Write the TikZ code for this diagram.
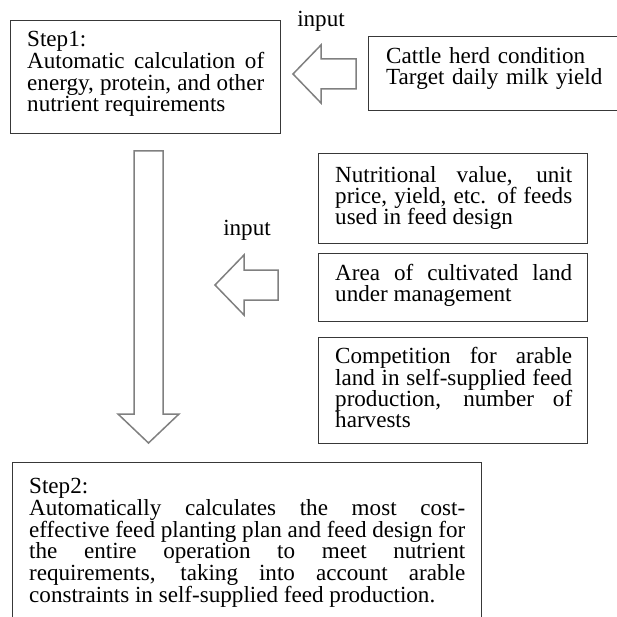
\documentclass[tikz,border=0pt]{standalone}
\usepackage{fontspec}
\setmainfont{Liberation Serif}
\tikzset{
  frame/.style={draw=black!78, line width=1.1pt, inner sep=0pt, anchor=north west},
  txt/.style={inner sep=0pt, anchor=north west, align=justify,
    font=\fontsize{23.1}{21.3}\selectfont},
  widetxt/.style={txt, font=\fontsize{23.1}{21.8}\selectfont},
  lbl/.style={inner sep=0pt, font=\fontsize{23.1}{21.3}\selectfont},
  blockarrow/.style={draw=black!50, line width=1.5pt, fill=white, line join=miter}
}
\begin{document}
\begin{tikzpicture}[x=1pt,y=-1pt]
\clip (0,0) rectangle (617,617);
\fill[white] (0,0) rectangle (617,617);
% frames
\node[frame, minimum width=270pt, minimum height=113pt] (s1) at (10,20) {};
\node[frame, minimum width=262pt, minimum height=74pt] (cat) at (368,36) {};
\node[frame, minimum width=269pt, minimum height=90pt] (b1) at (318,153) {};
\node[frame, minimum width=269pt, minimum height=68pt] (b2) at (318,253) {};
\node[frame, minimum width=269pt, minimum height=106pt] (b3) at (318,337) {};
\node[frame, minimum width=469pt, minimum height=175pt] (s2) at (12,462) {};
% texts
\node[widetxt, text width=237pt] (t1) at (27,31) {\hyphenpenalty=10000\exhyphenpenalty=10000 Step1:\\Automatic calculation of\linebreak energy, protein, and other\linebreak nutrient requirements};
\node[txt, text width=230pt, align=left] (tc) at (386,47) {Cattle herd condition\\Target daily milk yield};
\node[txt, text width=237pt] (t2) at (335,166) {\hyphenpenalty=10000\exhyphenpenalty=10000 Nutritional value, unit\linebreak price, yield, etc. of feeds\linebreak used in feed design};
\node[txt, text width=237pt] (t3) at (335,264) {\hyphenpenalty=10000\exhyphenpenalty=10000 Area of cultivated land\linebreak under management};
\node[txt, text width=237pt] (t4) at (335,347.5) {\hyphenpenalty=10000\exhyphenpenalty=10000 Competition for arable\linebreak land in self-supplied feed\linebreak production, number of\linebreak harvests};
\node[widetxt, text width=436pt] (t5) at (29,478) {\hyphenpenalty=10000\exhyphenpenalty=10000 Step2:\\Automatically calculates the most cost-\linebreak effective feed planting plan and feed design for\linebreak the entire operation to meet nutrient\linebreak requirements, taking into account arable\linebreak constraints in self-supplied feed production.};
% labels
\node[lbl] (in1) at (321,21) {input};
\node[lbl] (in2) at (247,230) {input};
% block arrows
\draw[blockarrow] (293,74) -- (321,45) -- (321,59) -- (356,59) -- (356,89) -- (321,89) -- (321,103) -- cycle;
\draw[blockarrow] (215,285) -- (244,255) -- (244,270) -- (278,270) -- (278,300) -- (244,300) -- (244,315) -- cycle;
\draw[blockarrow] (134,151) -- (163,151) -- (163,414) -- (179,414) -- (148.5,443) -- (118,414) -- (134,414) -- cycle;
\end{tikzpicture}
\end{document}
